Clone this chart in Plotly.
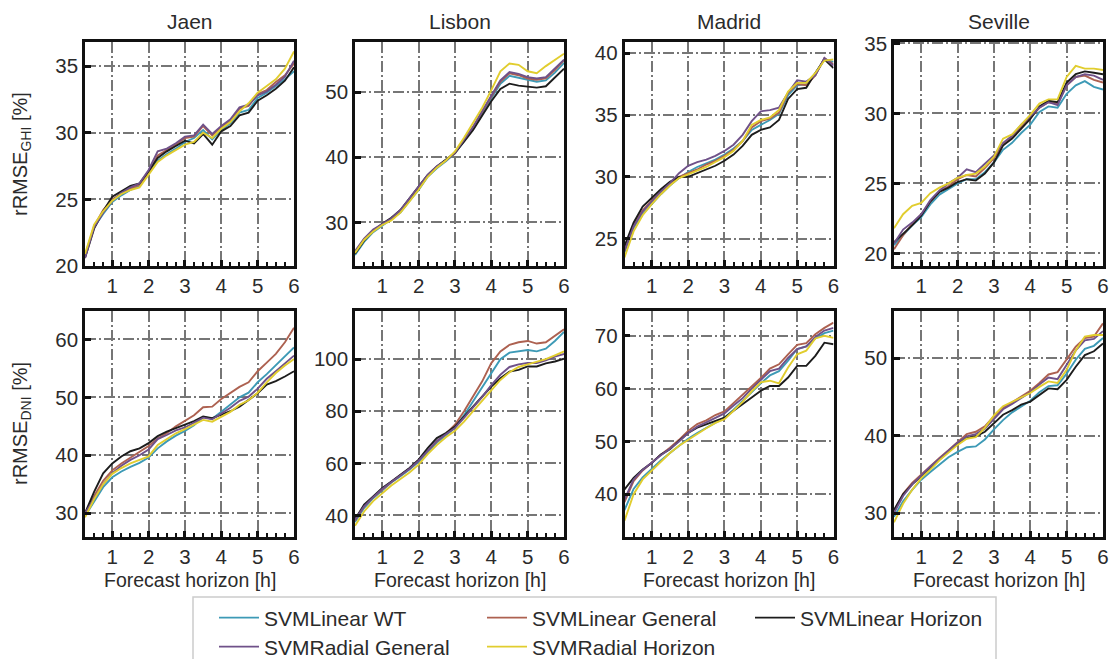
import plotly.graph_objects as go

# ---------------- data ----------------
hours = [0.25, 0.5, 0.75, 1.0, 1.25, 1.5, 1.75, 2.0, 2.25, 2.5, 2.75, 3.0,
         3.25, 3.5, 3.75, 4.0, 4.25, 4.5, 4.75, 5.0, 5.25, 5.5, 5.75, 6.0]

sites = ["Jaen", "Lisbon", "Madrid", "Seville"]
models = ["SVMLinear WT", "SVMLinear General", "SVMLinear Horizon",
          "SVMRadial General", "SVMRadial Horizon"]
model_colors = ["#3d9ab6", "#ad6150", "#1c1c1c", "#6f5189", "#e1cd2e"]

# GHI
jaen_ghi_wt      = [20.8, 22.9, 23.9, 24.8, 25.3, 25.7, 26.0, 27.0, 27.9, 28.4, 28.8, 29.3, 29.6, 30.2, 29.5, 30.2, 30.7, 31.5, 31.7, 32.6, 33.0, 33.5, 34.0, 34.6]
jaen_ghi_lingen  = [20.7, 23.0, 24.2, 25.0, 25.4, 25.8, 26.1, 27.0, 28.3, 28.7, 29.1, 29.6, 29.7, 30.5, 29.8, 30.4, 30.9, 31.8, 32.0, 32.9, 33.2, 33.8, 34.3, 35.2]
jaen_ghi_linhor  = [20.6, 22.8, 24.1, 25.2, 25.6, 26.0, 26.2, 27.1, 28.1, 28.6, 29.0, 29.4, 29.2, 29.9, 29.1, 30.1, 30.5, 31.3, 31.5, 32.4, 32.8, 33.3, 33.9, 34.9]
jaen_ghi_radgen  = [20.6, 22.9, 24.0, 24.9, 25.5, 25.9, 26.2, 27.2, 28.6, 28.8, 29.2, 29.7, 29.8, 30.6, 29.9, 30.5, 31.0, 31.9, 32.1, 32.8, 33.1, 33.6, 34.2, 35.4]
jaen_ghi_radhor  = [20.9, 23.1, 24.1, 24.9, 25.4, 25.7, 25.9, 26.9, 27.8, 28.3, 28.7, 29.1, 29.3, 30.0, 29.6, 30.3, 30.8, 31.6, 32.2, 33.0, 33.5, 34.0, 34.8, 36.1]

lisbon_ghi_wt     = [25.0, 27.0, 28.5, 29.5, 30.4, 31.5, 33.3, 35.0, 37.0, 38.3, 39.4, 40.6, 42.5, 44.5, 46.8, 49.0, 51.3, 52.5, 52.2, 51.8, 51.6, 51.8, 53.0, 54.5]
lisbon_ghi_lingen = [25.4, 27.4, 28.8, 29.7, 30.6, 31.8, 33.6, 35.4, 37.2, 38.5, 39.5, 40.6, 42.6, 44.6, 47.0, 49.3, 51.6, 52.9, 52.6, 52.1, 51.9, 52.1, 53.4, 54.9]
lisbon_ghi_linhor = [25.2, 27.2, 28.7, 29.8, 30.7, 31.9, 33.7, 35.5, 37.3, 38.6, 39.6, 40.7, 42.4, 44.2, 46.4, 48.6, 50.5, 51.3, 51.0, 50.8, 50.7, 50.9, 52.2, 53.6]
lisbon_ghi_radgen = [25.6, 27.5, 28.9, 29.8, 30.6, 31.9, 33.7, 35.5, 37.3, 38.6, 39.5, 40.7, 42.7, 44.7, 47.1, 49.4, 51.8, 53.1, 52.8, 52.3, 52.1, 52.3, 53.6, 55.0]
lisbon_ghi_radhor = [25.3, 27.3, 28.6, 29.6, 30.3, 31.5, 33.2, 35.0, 37.0, 38.4, 39.5, 40.9, 43.0, 45.2, 47.6, 50.3, 53.2, 54.4, 54.2, 53.2, 52.9, 54.0, 55.0, 55.9]

madrid_ghi_wt     = [23.9, 25.9, 27.0, 27.8, 28.6, 29.3, 29.9, 30.4, 30.8, 31.1, 31.4, 31.8, 32.3, 32.9, 33.8, 34.2, 34.6, 35.1, 36.6, 37.4, 37.5, 38.3, 39.5, 39.3]
madrid_ghi_lingen = [24.1, 26.1, 27.3, 28.1, 28.8, 29.4, 30.0, 30.3, 30.6, 31.0, 31.3, 31.7, 32.2, 32.9, 34.0, 34.5, 34.7, 35.2, 36.8, 37.5, 37.4, 38.2, 39.6, 39.1]
madrid_ghi_linhor = [24.4, 26.3, 27.6, 28.3, 29.0, 29.6, 30.0, 30.0, 30.3, 30.6, 30.9, 31.3, 31.8, 32.5, 33.4, 33.8, 34.0, 34.6, 36.3, 37.1, 37.2, 38.4, 39.5, 38.8]
madrid_ghi_radgen = [24.0, 26.0, 27.2, 28.0, 28.8, 29.5, 30.3, 30.9, 31.2, 31.4, 31.7, 32.1, 32.6, 33.4, 34.5, 35.3, 35.4, 35.6, 36.8, 37.8, 37.7, 38.2, 39.6, 39.0]
madrid_ghi_radhor = [23.5, 25.6, 26.9, 27.8, 28.6, 29.3, 29.9, 30.2, 30.5, 30.8, 31.2, 31.6, 32.1, 32.9, 34.2, 34.6, 34.8, 35.4, 36.9, 37.6, 37.6, 38.4, 39.4, 39.5]

seville_ghi_wt     = [20.6, 21.3, 22.0, 22.6, 23.5, 24.2, 24.6, 25.0, 25.3, 25.3, 25.8, 26.5, 27.4, 27.9, 28.6, 29.2, 30.1, 30.5, 30.4, 31.4, 32.0, 32.3, 31.9, 31.7]
seville_ghi_lingen = [20.3, 21.3, 22.1, 22.8, 23.7, 24.4, 24.8, 25.3, 25.6, 25.5, 26.1, 26.8, 27.8, 28.3, 29.0, 29.7, 30.4, 30.8, 30.7, 32.0, 32.6, 32.7, 32.4, 32.2]
seville_ghi_linhor = [20.8, 21.4, 22.0, 22.7, 23.7, 24.4, 24.7, 25.1, 25.3, 25.2, 25.7, 26.5, 27.7, 28.2, 28.9, 29.6, 30.5, 30.9, 30.8, 32.2, 32.8, 33.0, 32.9, 32.8]
seville_ghi_radgen = [20.7, 21.7, 22.2, 22.8, 23.8, 24.5, 25.0, 25.4, 26.0, 25.8, 26.4, 27.0, 27.9, 28.4, 29.2, 29.8, 30.4, 30.8, 30.6, 32.0, 32.6, 32.8, 32.7, 32.4]
seville_ghi_radhor = [21.8, 22.8, 23.4, 23.6, 24.3, 24.7, 25.0, 25.4, 25.6, 25.7, 26.2, 26.9, 28.2, 28.5, 29.2, 29.9, 30.7, 31.0, 31.0, 32.6, 33.4, 33.2, 33.2, 33.1]

# DNI
jaen_dni_wt     = [29.5, 32.0, 34.5, 36.2, 37.2, 38.0, 38.7, 39.6, 41.2, 42.4, 43.4, 44.2, 45.2, 46.6, 46.3, 47.5, 48.8, 50.0, 50.8, 52.6, 54.0, 55.5, 57.0, 58.6]
jaen_dni_lingen = [30.0, 33.0, 35.6, 37.4, 38.6, 39.6, 40.6, 41.6, 42.9, 43.8, 45.0, 46.0, 46.9, 48.3, 48.4, 49.7, 50.8, 51.8, 52.6, 54.5, 56.0, 57.5, 59.5, 62.0]
jaen_dni_linhor = [30.0, 33.7, 36.9, 38.6, 39.8, 40.7, 41.2, 42.1, 43.3, 44.1, 44.7, 45.3, 45.9, 46.7, 46.4, 47.0, 47.6, 48.4, 49.6, 50.7, 52.2, 52.8, 53.6, 54.5]
jaen_dni_radgen = [30.0, 32.6, 35.0, 36.9, 38.2, 39.2, 40.0, 41.0, 42.8, 43.5, 44.3, 44.8, 45.6, 46.5, 46.2, 47.2, 48.2, 49.4, 50.1, 51.5, 53.2, 54.5, 55.8, 57.2]
jaen_dni_radhor = [29.3, 32.4, 35.0, 36.8, 37.8, 38.6, 39.2, 39.8, 41.8, 42.8, 43.8, 44.5, 45.3, 46.1, 45.8, 46.6, 47.5, 48.7, 49.5, 50.8, 52.6, 54.2, 55.5, 56.6]

lisbon_dni_wt     = [37.5, 42.8, 46.6, 49.7, 52.6, 55.0, 57.6, 60.6, 64.3, 68.0, 70.8, 73.6, 78.5, 84.0, 89.2, 95.0, 100.0, 102.5, 103.0, 103.5, 103.0, 104.0, 107.0, 110.5]
lisbon_dni_lingen = [38.0, 43.4, 47.0, 50.0, 52.8, 55.4, 58.0, 61.2, 64.8, 68.4, 71.4, 74.8, 80.0, 85.5, 91.5, 98.5, 103.0, 105.5, 106.5, 107.0, 106.0, 106.5, 109.0, 111.5]
lisbon_dni_linhor = [38.5, 44.1, 47.3, 50.5, 53.0, 55.6, 58.2, 61.4, 65.8, 69.7, 71.6, 74.1, 78.0, 81.8, 85.7, 89.5, 92.7, 95.2, 95.9, 97.2, 97.2, 98.4, 99.1, 100.2]
lisbon_dni_radgen = [38.2, 43.5, 47.0, 50.1, 52.8, 55.3, 57.9, 61.0, 64.8, 68.6, 71.2, 73.6, 77.5, 81.5, 85.5, 90.0, 94.0, 97.0, 98.0, 98.5, 98.5, 99.5, 101.0, 102.0]
lisbon_dni_radhor = [36.0, 41.5, 45.5, 48.5, 51.5, 54.0, 56.5, 59.5, 63.5, 67.0, 70.0, 72.5, 76.0, 80.0, 84.0, 88.0, 92.0, 95.0, 97.0, 98.0, 99.0, 100.0, 101.5, 103.0]

madrid_dni_wt     = [37.0, 41.0, 43.2, 44.8, 46.4, 47.8, 49.2, 50.5, 51.6, 52.6, 53.6, 54.5, 56.0, 57.7, 59.5, 61.0, 62.5, 63.3, 65.3, 67.5, 68.0, 69.5, 70.5, 71.0]
madrid_dni_lingen = [38.5, 42.5, 44.5, 46.0, 47.5, 48.8, 50.3, 52.0, 53.3, 54.0, 55.0, 55.7, 57.3, 58.8, 60.5, 62.0, 63.8, 64.6, 66.5, 68.3, 68.6, 70.3, 71.5, 72.5]
madrid_dni_linhor = [40.9, 43.1, 44.7, 45.9, 47.5, 48.5, 50.1, 51.6, 52.6, 53.2, 53.9, 54.5, 55.8, 57.0, 58.3, 59.6, 60.5, 60.5, 62.1, 64.3, 64.3, 66.2, 68.7, 68.4]
madrid_dni_radgen = [39.0, 42.8, 44.6, 46.0, 47.4, 48.6, 50.0, 51.6, 52.8, 53.6, 54.5, 55.3, 56.8, 58.2, 60.0, 61.6, 63.3, 63.8, 65.8, 67.5, 68.0, 69.8, 71.0, 71.5]
madrid_dni_radhor = [35.0, 40.0, 42.8, 44.5, 46.3, 47.8, 49.2, 50.3, 51.5, 52.5, 53.5, 54.2, 55.8, 57.5, 59.5, 61.2, 61.5, 61.0, 64.0, 66.5, 67.2, 69.5, 70.0, 69.6]

seville_dni_wt     = [29.5, 31.5, 33.0, 34.3, 35.3, 36.3, 37.2, 37.9, 38.5, 38.6, 39.5, 40.8, 42.0, 43.0, 43.8, 44.5, 45.6, 46.4, 46.5, 48.0, 49.8, 51.2, 51.6, 52.6]
seville_dni_lingen = [30.2, 32.5, 33.9, 35.0, 36.1, 37.1, 38.1, 39.2, 40.2, 40.5, 41.2, 42.5, 43.6, 44.3, 45.0, 45.8, 46.8, 47.9, 48.2, 49.8, 51.5, 52.6, 52.8, 54.5]
seville_dni_linhor = [30.4, 32.4, 33.7, 34.7, 35.8, 36.9, 38.0, 39.0, 39.7, 39.9, 40.5, 41.6, 42.7, 43.3, 44.0, 44.4, 45.3, 46.1, 46.0, 47.2, 48.9, 50.4, 50.9, 51.9]
seville_dni_radgen = [30.0, 32.2, 33.7, 34.9, 36.0, 37.0, 38.0, 39.1, 39.9, 40.2, 40.9, 42.2, 43.4, 44.1, 44.8, 45.6, 46.6, 47.5, 47.3, 49.2, 51.0, 52.3, 52.5, 53.5]
seville_dni_radhor = [28.8, 31.2, 33.0, 34.5, 35.6, 36.8, 37.8, 38.8, 39.6, 39.8, 41.0, 42.6, 43.8, 44.4, 45.0, 45.5, 46.3, 47.0, 46.8, 48.5, 51.0, 52.8, 53.0, 53.0]

ghi_panels = [
    [jaen_ghi_wt, jaen_ghi_lingen, jaen_ghi_linhor, jaen_ghi_radgen, jaen_ghi_radhor],
    [lisbon_ghi_wt, lisbon_ghi_lingen, lisbon_ghi_linhor, lisbon_ghi_radgen, lisbon_ghi_radhor],
    [madrid_ghi_wt, madrid_ghi_lingen, madrid_ghi_linhor, madrid_ghi_radgen, madrid_ghi_radhor],
    [seville_ghi_wt, seville_ghi_lingen, seville_ghi_linhor, seville_ghi_radgen, seville_ghi_radhor],
]
dni_panels = [
    [jaen_dni_wt, jaen_dni_lingen, jaen_dni_linhor, jaen_dni_radgen, jaen_dni_radhor],
    [lisbon_dni_wt, lisbon_dni_lingen, lisbon_dni_linhor, lisbon_dni_radgen, lisbon_dni_radhor],
    [madrid_dni_wt, madrid_dni_lingen, madrid_dni_linhor, madrid_dni_radgen, madrid_dni_radhor],
    [seville_dni_wt, seville_dni_lingen, seville_dni_linhor, seville_dni_radgen, seville_dni_radhor],
]

ghi_ranges = [[20.0, 36.8], [23.3, 57.7], [22.8, 40.9], [19.1, 35.1]]
ghi_dticks = [5, 10, 5, 5]
dni_ranges = [[25.9, 64.9], [31.7, 118.5], [31.9, 74.7], [26.9, 56.1]]
dni_dticks = [10, 20, 10, 10]

y_titles = ["rRMSE<sub>GHI</sub> [%]", "rRMSE<sub>DNI</sub> [%]"]
x_title = "Forecast horizon [h]"

# ---------------- layout geometry (pixels) ----------------
W, H = 1111, 659
col_left = [85, 355, 624.5, 894]
col_w = 209
row_top = [42, 311]
row_h = [224, 226]

FONT = "Liberation Sans, Arial, Helvetica, sans-serif"
TXT = "#2b2b2b"

fig = go.Figure()
layout = dict(
    width=W, height=H, margin=dict(l=0, r=0, t=0, b=0, autoexpand=False),
    paper_bgcolor="white", plot_bgcolor="white",
    font=dict(family=FONT, size=20, color=TXT),
    annotations=[], shapes=[],
)

grid_style = dict(showgrid=True, gridcolor="#767676", gridwidth=1.8,
                  griddash="11px,3px,2px,3px", zeroline=False,
                  showline=True, mirror=True, linecolor="#111111", linewidth=2.5,
                  tickfont=dict(family=FONT, size=20.5, color=TXT),
                  automargin=False, fixedrange=True)

for r, (panels, ranges, dticks) in enumerate([(ghi_panels, ghi_ranges, ghi_dticks),
                                              (dni_panels, dni_ranges, dni_dticks)]):
    for c in range(4):
        n = r * 4 + c + 1
        xa = "xaxis" if n == 1 else f"xaxis{n}"
        ya = "yaxis" if n == 1 else f"yaxis{n}"
        xref = "x" if n == 1 else f"x{n}"
        yref = "y" if n == 1 else f"y{n}"
        x0 = col_left[c] / W
        x1 = (col_left[c] + col_w) / W
        y1 = 1 - row_top[r] / H
        y0 = 1 - (row_top[r] + row_h[r]) / H
        layout[xa] = dict(domain=[x0, x1], anchor=yref, range=[0.25, 6.0],
                          tickmode="linear", tick0=0, dtick=1,
                          ticks="inside", ticklen=6, tickwidth=2.5, tickcolor="#111111",
                          minor=dict(tickmode="linear", tick0=0, dtick=0.25, ticks="inside",
                                     ticklen=4, tickwidth=1.6, tickcolor="#111111",
                                     showgrid=False),
                          **grid_style)
        layout[ya] = dict(domain=[y0, y1], anchor=xref, range=ranges[c],
                          tickmode="linear", tick0=0, dtick=dticks[c],
                          ticks="inside", ticklen=6, tickwidth=3, tickcolor="#111111",
                          **grid_style)
        for k, series in enumerate(panels[c]):
            show = (r == 0 and c == 0)
            fig.add_trace(go.Scatter(
                x=hours, y=series, mode="lines", name=models[k],
                line=dict(color=model_colors[k], width=1.9),
                xaxis=xref, yaxis=yref, showlegend=show,
                legend="legend" if k < 3 else "legend2",
            ))
        if r == 0:
            layout["annotations"].append(dict(
                text=sites[c], x=(x0 + x1) / 2, y=1 - 22 / H, xref="paper", yref="paper",
                xanchor="center", yanchor="middle", showarrow=False,
                font=dict(family=FONT, size=21, color=TXT)))
        else:
            layout["annotations"].append(dict(
                text=x_title, x=(x0 + x1) / 2, y=1 - 580 / H, xref="paper", yref="paper",
                xanchor="center", yanchor="middle", showarrow=False,
                font=dict(family=FONT, size=19.5, color=TXT)))
    layout["annotations"].append(dict(
        text=y_titles[r], x=22 / W, y=1 - (row_top[r] + row_h[r] / 2) / H,
        xref="paper", yref="paper", xanchor="center", yanchor="middle",
        textangle=-90, showarrow=False, font=dict(family=FONT, size=20, color=TXT)))

legend_common = dict(orientation="h", xanchor="left", yanchor="middle",
                     bgcolor="rgba(0,0,0,0)", borderwidth=0,
                     font=dict(family=FONT, size=21, color=TXT),
                     entrywidth=213, entrywidthmode="pixels",
                     itemwidth=40, tracegroupgap=0)
layout["legend"] = dict(x=214 / W, y=1 - 618 / H, **legend_common)
layout["legend2"] = dict(x=214 / W, y=1 - 647 / H, **legend_common)

layout["shapes"].append(dict(type="rect", xref="paper", yref="paper",
                             x0=193 / W, x1=996 / W, y0=1 - 668 / H, y1=1 - 597 / H,
                             line=dict(color="#cccccc", width=1.5), fillcolor="rgba(0,0,0,0)"))

fig.update_layout(**layout)
fig.write_html("out.html", config={"displayModeBar": False},
               post_script="document.body.style.margin='0';document.body.style.overflow='hidden';")
